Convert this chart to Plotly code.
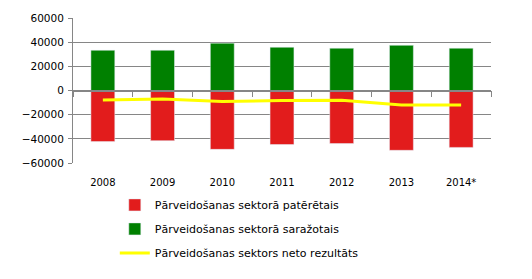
import plotly.graph_objects as go

years = ["2008", "2009", "2010", "2011", "2012", "2013", "2014*"]
consumed = [-42300, -41500, -48700, -44700, -43900, -49500, -47100]
produced = [33300, 33300, 39200, 35800, 35000, 37400, 35000]
net = [-7800, -7000, -9200, -8200, -8100, -12100, -12100]

names = ["Pārveidošanas sektorā patērētais",
         "Pārveidošanas sektorā saražotais",
         "Pārveidošanas sektors neto rezultāts"]

grid = "#868686"
font = dict(family="DejaVu Sans", size=10, color="#000000")
yfont = dict(family="DejaVu Sans", size=10.5, color="#000000")

fig = go.Figure()
fig.add_trace(go.Bar(x=years, y=consumed, name=names[0], marker_color="#E21C1C",
                     width=0.4, legendgroup="a"))
fig.add_trace(go.Bar(x=years, y=produced, name=names[1], marker_color="#008000",
                     width=0.4, legendgroup="b"))
fig.add_trace(go.Scatter(x=years, y=net, name=names[2], mode="lines",
                         line=dict(color="#FFFF00", width=3), legendgroup="c"))
# helper axis at zero for category tick marks
fig.add_trace(go.Scatter(x=years, y=[None] * len(years), xaxis="x2", yaxis="y",
                         showlegend=False, hoverinfo="skip"))

fig.update_layout(
    width=532, height=279,
    margin=dict(l=73, r=41, t=16, b=115),
    paper_bgcolor="white", plot_bgcolor="white",
    barmode="relative",
    font=font,
    showlegend=True,
    legend=dict(x=0.1, y=-0.72, xanchor="left", yanchor="bottom",
                traceorder="grouped", tracegroupgap=5,
                font=dict(family="DejaVu Sans", size=11, color="#000000")),
    xaxis=dict(type="category", showgrid=False, showline=False, ticks="",
               range=[-0.5, 6.5], tickfont=font, ticklabelstandoff=12,
               zeroline=False),
    xaxis2=dict(overlaying="x", anchor="free", position=0.5, type="linear",
                range=[-0.5, 6.5], showgrid=False, showline=True, linecolor=grid,
                linewidth=1.5, ticks="outside", ticklen=6, tickcolor=grid,
                tickmode="array", tickvals=[-0.5 + i for i in range(8)],
                showticklabels=False, zeroline=False),
    yaxis=dict(range=[-60000, 60000], tickvals=[-60000, -40000, -20000, 0, 20000, 40000, 60000],
               tickformat="d", showgrid=True, gridcolor=grid, gridwidth=1,
               showline=True, linecolor=grid, linewidth=1, zeroline=False,
               tickfont=yfont, ticks="outside", ticklen=4, tickcolor=grid,
               ticklabelstandoff=2),
)

fig.write_html("out.html")
